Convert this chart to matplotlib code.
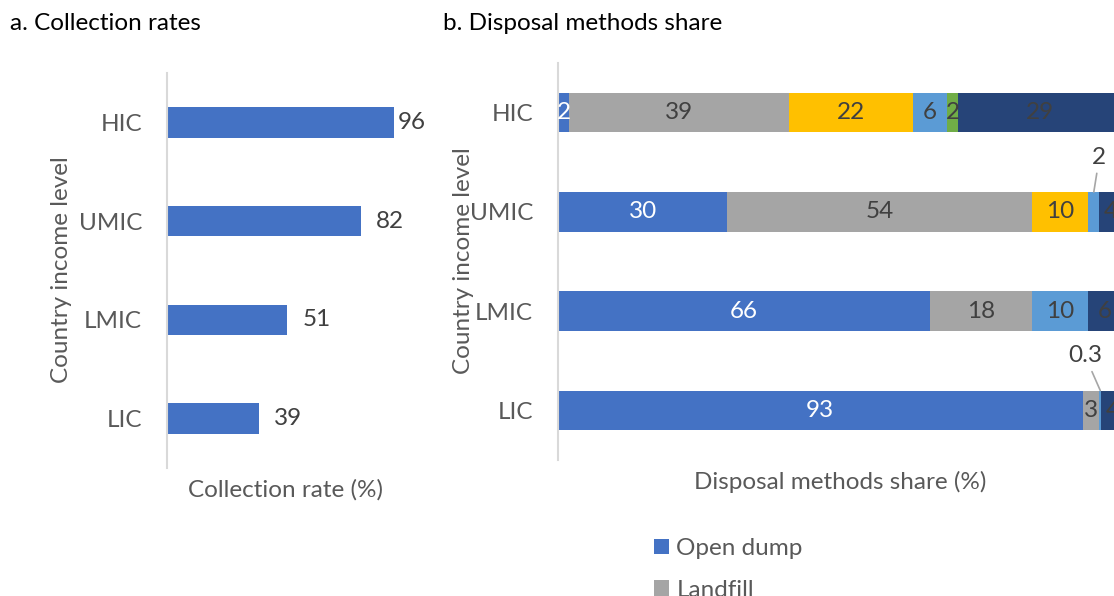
"""Collection rates and disposal methods share by country income level."""

import matplotlib.pyplot as plt

plt.rcParams['font.family'] = ['Lato', 'DejaVu Sans']

# data
income_levels = ["HIC", "UMIC", "LMIC", "LIC"]
collection_rates = [96, 82, 51, 39]

methods = ["Open dump", "Landfill", "Incineration", "Composting", "Other", "Recycling"]
open_dump = [2, 30, 66, 93]
landfill = [39, 54, 18, 3]
incineration = [22, 10, 0, 0]
composting = [6, 2, 10, 0.3]
other = [2, 0, 0, 0]
recycling = [29, 4, 6, 4]
shares = [open_dump, landfill, incineration, composting, other, recycling]

method_colors = ["#4472C4", "#A5A5A5", "#FFC000", "#5B9BD5", "#70AD47", "#264478"]
label_colors = ["white", "#404040", "#404040", "#404040", "#404040", "#404040"]

W, H = 1114, 596
TICK_COLOR = "#595959"
VALUE_COLOR = "#404040"
FS = 17.5


def px_box(left, top, right, bottom):
    return [left / W, 1 - bottom / H, (right - left) / W, (bottom - top) / H]


def style_axis(ax):
    for side in ["top", "right", "bottom"]:
        ax.spines[side].set_visible(False)
    ax.spines["left"].set_color("#D9D9D9")
    ax.spines["left"].set_linewidth(1.5)
    ax.set_xticks([])
    ax.tick_params(axis="y", length=0, pad=18, labelsize=FS, labelcolor=TICK_COLOR)
    ax.set_ylim(len(income_levels) - 0.5, -0.5)


fig = plt.figure(figsize=(W / 100, H / 100), dpi=100)

# a. Collection rates
ax1 = fig.add_axes(px_box(167, 73, 403, 468))
bars = ax1.barh(income_levels, collection_rates, height=0.31, color="#4472C4")
for bar, val in zip(bars, collection_rates):
    offset = 3 if val > 90 else 11
    ax1.annotate(f"{val}", (bar.get_width(), bar.get_y() + bar.get_height() / 2),
                 xytext=(offset, 0), textcoords="offset points",
                 va="center", ha="left", fontsize=FS, color=VALUE_COLOR)
ax1.set_xlim(0, 100)
style_axis(ax1)
ax1.set_xlabel("Collection rate (%)", fontsize=FS, color=TICK_COLOR, labelpad=8)
fig.text(62 / W, 1 - 270 / H, "Country income level", rotation=90,
         ha="center", va="center", fontsize=FS, color=TICK_COLOR)
fig.text(10 / W, 1 - 24 / H, "a. Collection rates", ha="left", va="center",
         fontsize=FS, color="black")

# b. Disposal methods share (chart runs past the right edge of the image)
ax2 = fig.add_axes(px_box(558, 63, 1122, 460))
left = [0] * len(income_levels)
for name, vals, col, lcol in zip(methods, shares, method_colors, label_colors):
    bars = ax2.barh(income_levels, vals, left=left, height=0.4, color=col, label=name)
    for i, (bar, val) in enumerate(zip(bars, vals)):
        if val == 0:
            continue
        xc = bar.get_x() + bar.get_width() / 2
        yc = bar.get_y() + bar.get_height() / 2
        txt = f"{val:g}"
        if val < 1 or (name == "Composting" and income_levels[i] == "UMIC"):
            # small slices get a callout above the bar
            dx = 4 if val >= 1 else -11
            ax2.annotate(txt, (xc, bar.get_y()), xytext=(dx, 25),
                         textcoords="offset points", ha="center", va="center",
                         fontsize=FS, color=VALUE_COLOR,
                         arrowprops=dict(arrowstyle="-", color="#A6A6A6",
                                         lw=1.2, shrinkA=2, shrinkB=0))
        else:
            ax2.text(xc, yc, txt, ha="center", va="center", fontsize=FS, color=lcol)
    left = [a + b for a, b in zip(left, vals)]
ax2.set_xlim(0, 100)
style_axis(ax2)
ax2.set_xlabel("Disposal methods share (%)", fontsize=FS, color=TICK_COLOR, labelpad=8)
fig.text(463 / W, 1 - 261 / H, "Country income level", rotation=90,
         ha="center", va="center", fontsize=FS, color=TICK_COLOR)
fig.text(443 / W, 1 - 24 / H, "b. Disposal methods share", ha="left", va="center",
         fontsize=FS, color="black")

# only the first legend rows fit inside the image
handles, labels = ax2.get_legend_handles_labels()
fig.legend(handles[:2], labels[:2], loc="upper left", bbox_to_anchor=(654 / W, 1 - 538 / H),
           ncol=1, frameon=False, fontsize=FS, labelcolor=TICK_COLOR,
           handlelength=0.62, handleheight=0.62, handletextpad=0.3,
           labelspacing=0.85, borderpad=0, borderaxespad=0)

fig.savefig("out.png", dpi=100)
